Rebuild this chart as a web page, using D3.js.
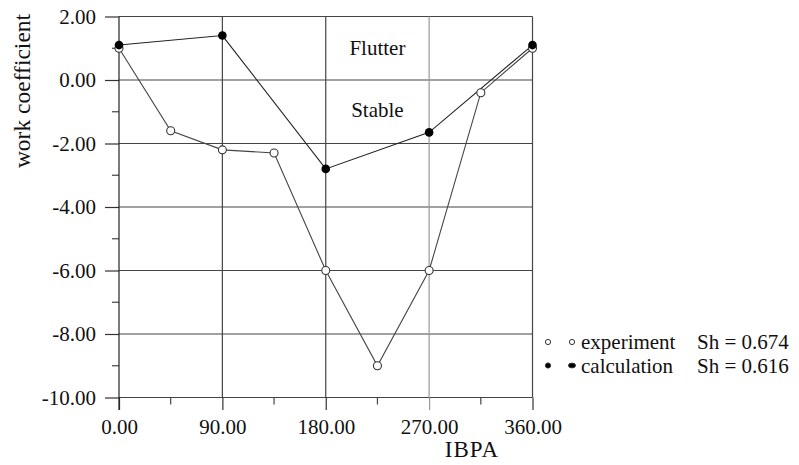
<!DOCTYPE html>
<html>
<head>
<meta charset="utf-8">
<script src="https://cdn.jsdelivr.net/npm/d3@7"></script>
<style>
body{margin:0;background:#fff;}
text{font-family:"Liberation Serif","Times New Roman",serif;fill:#111;}
.grid{stroke:#444;stroke-width:1.2;}
.axis path,.axis line{stroke:#333;stroke-width:1.2;}
</style>
</head>
<body>
<script>
var width=799,height=465;

// data
var ibpa = [0,45,90,135,180,225,270,315,360];
var experiment = [1.0,-1.6,-2.2,-2.3,-6.0,-9.0,-6.0,-0.4,1.0];
var calcIbpa = [0,90,180,270,360];
var calculation = [1.1,1.4,-2.8,-1.65,1.1];
var xTicks = [0,90,180,270,360];
var xMinor = [45,135,225,315];
var yTicks = [2,0,-2,-4,-6,-8,-10];
var yMinor = [1,-1,-3,-5,-7,-9];

var svg = d3.select("body")
	.append("svg")
	.attr("width", width)
	.attr("height", height);

var x = d3.scaleLinear().domain([0,360]).range([119,532.5]);
var y = d3.scaleLinear().domain([-10,2]).range([397.5,16.5]);

var g = svg.append("g");
// horizontal grid
g.selectAll(".hgrid").data(yTicks).enter().append("line")
	.attr("class","grid")
	.attr("x1", x(0)).attr("x2", x(360))
	.attr("y1", function(d){return y(d);}).attr("y2", function(d){return y(d);});
// vertical grid
g.selectAll(".vgrid").data(xTicks.slice(1)).enter().append("line")
	.attr("class","grid")
	.attr("x1", function(d){return x(d);}).attr("x2", function(d){return x(d);})
	.attr("y1", y(2)).attr("y2", y(-10))
	.style("stroke", function(d){return d==270?"#999":"#444";});

// axes
svg.append("g").attr("class","axis")
	.attr("transform","translate(0,"+y(-10)+")")
	.call(d3.axisBottom(x).tickValues(xTicks).tickSize(12.5).tickPadding(9)
		.tickFormat(function(d){return d.toFixed(2);}))
	.attr("font-family", null).attr("font-size", null)
	.call(function(a){a.select(".domain").remove();})
	.selectAll("text").style("font-size","21px");
svg.selectAll(".axis line").filter(function(d){return d==270;}).style("stroke","#999");

svg.append("g").attr("class","axis")
	.attr("transform","translate("+x(0)+",0)")
	.call(d3.axisLeft(y).tickValues(yTicks).tickSize(14).tickPadding(9)
		.tickFormat(function(d){return d.toFixed(2);}))
	.attr("font-family", null).attr("font-size", null)
	.call(function(a){a.select(".domain").remove();})
	.selectAll("text").style("font-size","21px");

svg.append("line").attr("class","grid")
	.attr("x1", x(0)).attr("x2", x(0)).attr("y1", y(2)).attr("y2", y(-10)+12.5)
	.style("stroke","#222");

// minor ticks
g.selectAll(".xminor").data(xMinor).enter().append("line")
	.attr("class","grid")
	.attr("x1", function(d){return x(d);}).attr("x2", function(d){return x(d);})
	.attr("y1", y(-10)).attr("y2", y(-10)+7);
g.selectAll(".yminor").data(yMinor).enter().append("line")
	.attr("class","grid")
	.attr("x1", x(0)-7).attr("x2", x(0))
	.attr("y1", function(d){return y(d);}).attr("y2", function(d){return y(d);});

// series
var line = d3.line()
	.x(function(d){return x(d[0]);})
	.y(function(d){return y(d[1]);});

var expData = d3.zip(ibpa, experiment);
var calcData = d3.zip(calcIbpa, calculation);

svg.append("path").datum(expData)
	.attr("d", line).attr("fill","none")
	.attr("stroke","#444").attr("stroke-width",1.1);
svg.append("path").datum(calcData)
	.attr("d", line).attr("fill","none")
	.attr("stroke","#222").attr("stroke-width",1.1);

svg.selectAll(".exp").data(expData).enter().append("circle")
	.attr("cx", function(d){return x(d[0]);})
	.attr("cy", function(d){return y(d[1]);})
	.attr("r", 4)
	.attr("fill","#fff").attr("stroke","#333").attr("stroke-width",1.1);
svg.selectAll(".calc").data(calcData).enter().append("circle")
	.attr("cx", function(d){return x(d[0]);})
	.attr("cy", function(d){return y(d[1]);})
	.attr("r", 4.3)
	.attr("fill","#000");

// region labels
svg.append("text").attr("x", x(225)).attr("y", y(0.8))
	.attr("text-anchor","middle").style("font-size","21px").text("Flutter");
svg.append("text").attr("x", x(225)).attr("y", y(-1.15))
	.attr("text-anchor","middle").style("font-size","21px").text("Stable");

// axis titles
svg.append("text").attr("x", 472).attr("y", 457)
	.attr("text-anchor","middle").style("font-size","23px").style("letter-spacing","1px").text("IBPA");
svg.append("text").attr("transform","translate(30,91) rotate(-90)")
	.attr("text-anchor","middle").style("font-size","23.5px").text("work coefficient");

// legend
var legend = [
	{label:"experiment", sh:"Sh = 0.674", filled:false},
	{label:"calculation", sh:"Sh = 0.616", filled:true}
];
var lg = svg.selectAll(".legend").data(legend).enter().append("g")
	.attr("transform", function(d,i){return "translate(0,"+(342+i*23.5)+")";});
lg.append("circle").attr("cx",548).attr("cy",0).attr("r",2.6)
	.attr("fill", function(d){return d.filled?"#000":"#fff";})
	.attr("stroke","#333");
lg.append("ellipse").attr("cx",572).attr("cy",0)
	.attr("rx", function(d){return d.filled?3.5:2.6;}).attr("ry", function(d){return d.filled?2.4:2.6;})
	.attr("fill", function(d){return d.filled?"#000":"#fff";})
	.attr("stroke","#333");
lg.append("text").attr("x",581).attr("y",7).style("font-size","21px")
	.text(function(d){return d.label;});
lg.append("text").attr("x",697).attr("y",7).style("font-size","21px")
	.text(function(d){return d.sh;});
</script>
</body>
</html>
